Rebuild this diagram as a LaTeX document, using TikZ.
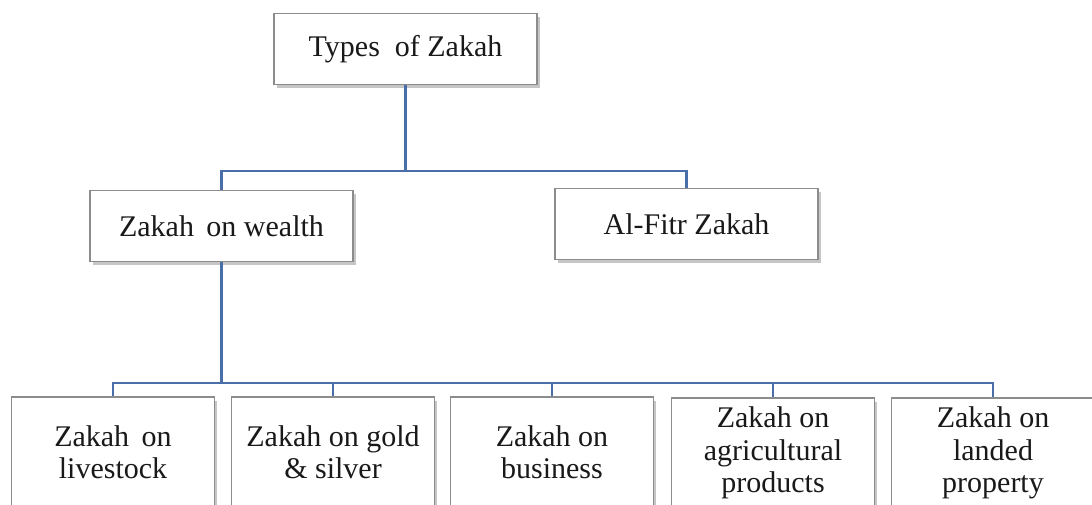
\documentclass[tikz,border=0pt]{standalone}
\usepackage{fontspec}
\setmainfont{Liberation Serif}
\usepackage{xcolor}
\usetikzlibrary{shadows}

\definecolor{linkblue}{RGB}{74,110,168}
\definecolor{boxgray}{RGB}{140,140,140}
\definecolor{txtgray}{RGB}{25,25,25}

\tikzset{
  zbox/.style={draw=boxgray, line width=1.3pt, fill=white,
    drop shadow={shadow xshift=2.5pt, shadow yshift=-3.5pt, opacity=0.45},
    text=txtgray, font=\fontsize{30}{32.5}\selectfont, align=center,
    inner sep=0pt},
  headbox/.style={zbox, minimum width=263, minimum height=71},
  leafbox/.style={zbox, minimum width=203, minimum height=110},
  link/.style={draw=linkblue, line width=2.6pt}
}

\begin{document}
\begin{tikzpicture}[x=1pt, y=-1pt]
  % page frame
  \useasboundingbox (0,0) rectangle (1092,505);

  % upper boxes
  \node[headbox] (types) at (405.5,49) {Types\ \ of Zakah};
  \node[headbox] (wealth) at (221.5,226) {Zakah\ \,on wealth};
  \node[headbox] (fitr) at (686.5,224) {Al-Fitr Zakah};

  % lower row
  \node[leafbox] (livestock) at (113,452) {Zakah\ \,on\\livestock};
  \node[leafbox] (gold) at (333,452) {Zakah on gold\\\& silver};
  \node[leafbox] (business) at (552,452) {Zakah on\\business};
  \node[leafbox] (agri) at (773,453) {Zakah on\\agricultural\\products};
  \node[leafbox] (landed) at (993,453) {Zakah on\\landed\\property};

  % connectors
  \coordinate (jtop) at (405.5,171);
  \coordinate (jlow) at (221.5,383);
  \draw[link] (types.south) -- (jtop);
  \draw[link] (wealth.north) |- (jtop) -| (fitr.north);
  \draw[link] (wealth.south) -- (jlow);
  \draw[link] (livestock.north) |- (jlow) -| (landed.north);
  \draw[link] (gold.north) -- (gold.north |- jlow);
  \draw[link] (business.north) -- (business.north |- jlow);
  \draw[link] (agri.north) -- (agri.north |- jlow);
\end{tikzpicture}
\end{document}
